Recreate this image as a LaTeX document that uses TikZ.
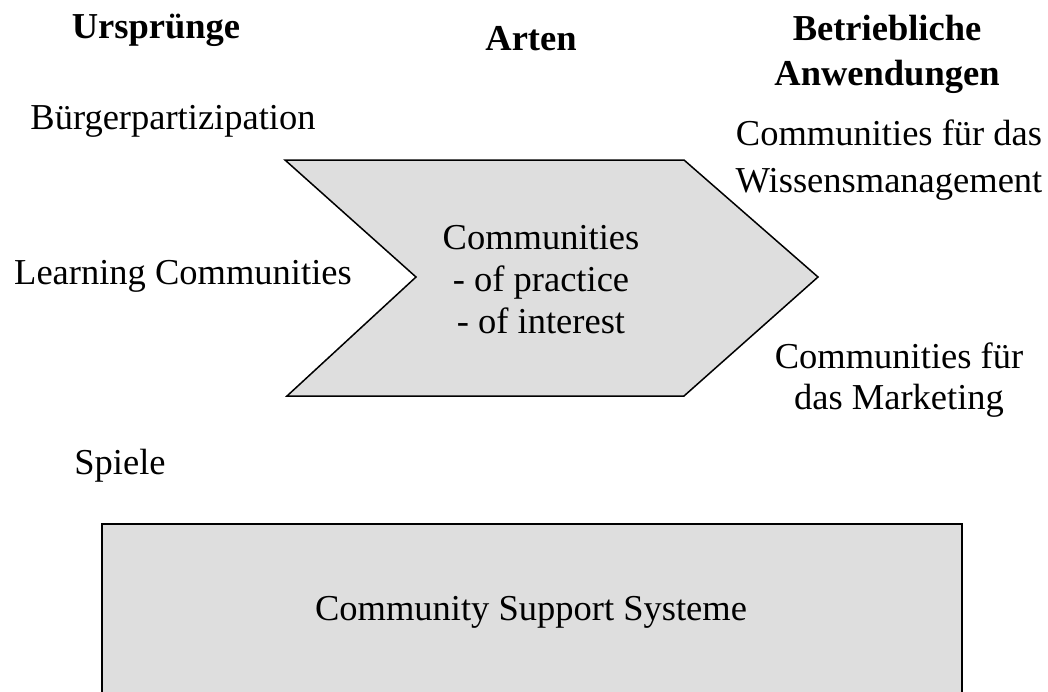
\documentclass[tikz,border=0pt]{standalone}
\usepackage{fontspec}
\setmainfont{Liberation Serif}
\begin{document}
\begin{tikzpicture}[x=1pt,y=-1pt,
  lbl/.style={inner sep=0pt, align=center, font=\fontsize{36.5}{44}\selectfont},
  head/.style={lbl, font=\fontsize{36.5}{45}\selectfont\bfseries},
  shapebox/.style={draw=black, line width=1.5pt, fill=black!13}]
\useasboundingbox (0,0) rectangle (1048,691);
\clip (0,0) rectangle (1048,691);
% column headings
\node[head] (h1) at (156,30) {Ursprünge};
\node[head] (h2) at (531,39) {Arten};
\node[head] (h3) at (887,54) {Betriebliche\\Anwendungen};
% chevron for the kinds of communities
\draw[shapebox] (285,160) -- (684,160) -- (818,277) -- (684,396) -- (287,396) -- (416,277) -- cycle;
\node[lbl, font=\fontsize{36.5}{42}\selectfont] (arten) at (541,280) {Communities\\- of practice\\- of interest};
% origins
\node[lbl] (o1) at (173,121) {Bürgerpartizipation};
\node[lbl] (o2) at (183,276) {Learning Communities};
\node[lbl] (o3) at (120,466) {Spiele};
% business applications
\node[lbl, font=\fontsize{36.5}{47}\selectfont] (a1) at (889,160) {Communities für das\\Wissensmanagement};
\node[lbl, font=\fontsize{36.5}{41}\selectfont] (a2) at (899,380) {Communities für\\das Marketing};
% support systems
\draw[shapebox] (102,524) rectangle (962,700);
\node[lbl] (css) at (531,612) {Community Support Systeme};
\end{tikzpicture}
\end{document}
